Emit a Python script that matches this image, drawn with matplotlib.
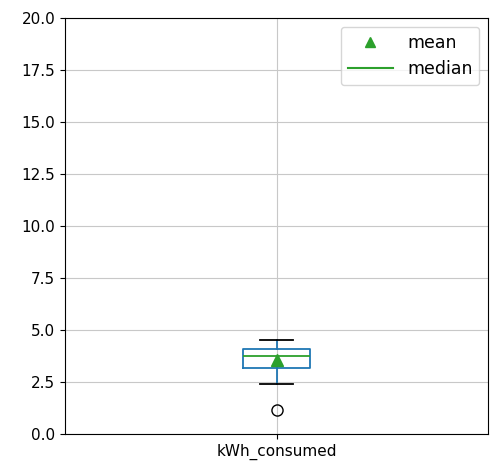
import matplotlib
matplotlib.use("Agg")
import matplotlib.pyplot as plt
from matplotlib.lines import Line2D

# box statistics
label = "kWh_consumed"
q1 = 3.17
q3 = 4.09
median = 3.75
mean = 3.55
whisker_low = 2.40
whisker_high = 4.55
outliers = [1.15]

stats = [{
    "label": label,
    "q1": q1, "q3": q3, "med": median, "mean": mean,
    "whislo": whisker_low, "whishi": whisker_high,
    "fliers": outliers,
}]

fig = plt.figure(figsize=(4.92, 4.73), dpi=100)
ax = fig.add_axes([0.132, 0.082, 0.86, 0.88])

ax.bxp(stats, positions=[1], widths=0.16, showmeans=True,
       boxprops=dict(color="#1f77b4", linewidth=1.3),
       whiskerprops=dict(color="#1f77b4", linewidth=1.3),
       capprops=dict(color="black", linewidth=1.3),
       medianprops=dict(color="#2ca02c", linewidth=1.3),
       meanprops=dict(marker="^", markerfacecolor="#2ca02c", markeredgecolor="#2ca02c", markersize=8),
       flierprops=dict(marker="o", markerfacecolor="none", markeredgecolor="black", markersize=8))

ax.set_xlim(0.5, 1.5)
ax.set_ylim(0, 20)
ax.grid(True, color="#c8c8c8")
ax.set_axisbelow(True)
ax.tick_params(labelsize=11)

handles = [
    Line2D([], [], linestyle="none", marker="^", color="#2ca02c", markersize=7),
    Line2D([], [], color="#2ca02c"),
]
ax.legend(handles, ["mean", "median"], loc="upper right", fontsize=12.5, handlelength=2.6)

fig.savefig("out.png", dpi=100)
